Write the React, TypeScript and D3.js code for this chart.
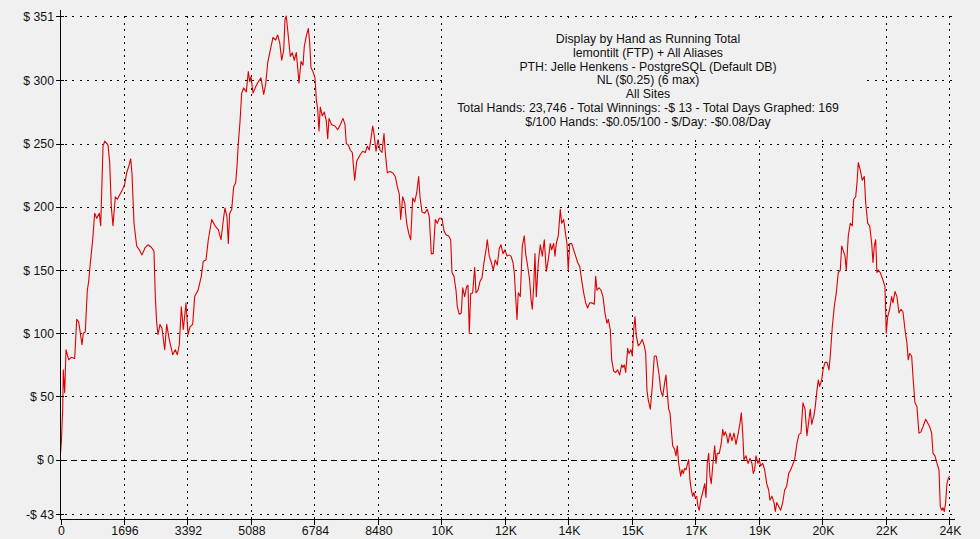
import React from 'react';
import * as d3 from 'd3';

// running total: [hand number, winnings in $]
const runningTotal: [number, number][] = [
  [0, 5], [21, 13], [59, 40], [75, 71], [112, 53], [147, 87], [219, 79], [288, 81], [379, 80], [433, 111],
  [486, 109], [574, 91], [609, 100], [662, 101], [716, 134], [753, 141], [788, 153], [860, 174], [913, 195],
  [967, 191], [1036, 195], [1074, 185], [1108, 219], [1135, 248], [1181, 252], [1269, 249], [1314, 235],
  [1357, 200], [1402, 185], [1464, 208], [1517, 206], [1589, 210], [1661, 214], [1715, 218], [1768, 227],
  [1822, 232], [1875, 238], [1910, 226], [1963, 187], [2035, 169], [2105, 166], [2177, 162], [2265, 168],
  [2337, 170], [2425, 168], [2497, 165], [2532, 129], [2570, 108], [2604, 99], [2658, 107], [2711, 104],
  [2783, 87], [2837, 107], [2906, 95], [2997, 83], [3066, 87], [3120, 83], [3173, 91], [3227, 121],
  [3280, 103], [3352, 124], [3406, 99], [3459, 105], [3531, 107], [3584, 129], [3673, 134], [3761, 145],
  [3814, 157], [3886, 158], [3948, 174], [4039, 190], [4127, 185], [4215, 182], [4287, 174], [4359, 192],
  [4394, 199], [4447, 192], [4482, 171], [4519, 195], [4573, 198], [4626, 216], [4680, 219], [4714, 232],
  [4749, 250], [4794, 267], [4840, 290], [4893, 294], [4963, 291], [5016, 307], [5054, 299], [5088, 303],
  [5142, 290], [5214, 295], [5283, 299], [5355, 302], [5427, 289], [5481, 297], [5534, 314], [5604, 324],
  [5676, 334], [5748, 332], [5801, 336], [5855, 330], [5908, 316], [5962, 324], [5996, 348], [6031, 351],
  [6085, 335], [6138, 319], [6191, 322], [6245, 316], [6298, 322], [6336, 310], [6370, 298], [6424, 315],
  [6477, 312], [6512, 327], [6565, 335], [6619, 341], [6656, 330], [6691, 310], [6744, 307], [6798, 302],
  [6833, 285], [6870, 277], [6905, 260], [6939, 279], [6993, 272], [7046, 275], [7100, 268], [7137, 254],
  [7172, 270], [7244, 265], [7332, 264], [7404, 261], [7473, 265], [7546, 270], [7599, 265], [7634, 250],
  [7687, 249], [7741, 245], [7794, 243], [7858, 221], [7912, 236], [8000, 241], [8072, 244], [8141, 243],
  [8195, 248], [8248, 245], [8301, 256], [8339, 264], [8374, 258], [8427, 244], [8480, 253], [8534, 245],
  [8587, 243], [8641, 258], [8675, 243], [8729, 227], [8801, 228], [8873, 227], [8943, 224], [8996, 216],
  [9049, 210], [9087, 190], [9140, 208], [9194, 203], [9247, 187], [9301, 179], [9354, 174], [9407, 207],
  [9461, 204], [9514, 211], [9567, 224], [9602, 208], [9656, 196], [9728, 195], [9797, 198], [9851, 192],
  [9904, 163], [9957, 163], [10011, 190], [10064, 187], [10118, 191], [10190, 191], [10243, 181],
  [10297, 178], [10369, 177], [10422, 174], [10457, 148], [10510, 145], [10564, 134], [10599, 121],
  [10652, 115], [10705, 116], [10743, 136], [10796, 129], [10850, 137], [10884, 138], [10919, 100],
  [10956, 131], [11010, 132], [11063, 152], [11098, 132], [11152, 134], [11205, 141], [11258, 144],
  [11312, 156], [11365, 166], [11400, 174], [11453, 161], [11507, 156], [11560, 150], [11613, 158],
  [11667, 154], [11720, 167], [11766, 170], [11819, 163], [11873, 166], [11926, 161], [11980, 162],
  [12033, 161], [12086, 156], [12121, 148], [12158, 129], [12193, 111], [12228, 132], [12281, 129],
  [12335, 169], [12388, 177], [12425, 163], [12479, 153], [12532, 142], [12567, 127], [12602, 119],
  [12639, 137], [12674, 163], [12709, 129], [12762, 156], [12816, 170], [12869, 161], [12923, 174],
  [12976, 149], [13029, 158], [13083, 171], [13120, 166], [13173, 171], [13208, 161], [13243, 171],
  [13296, 177], [13350, 198], [13387, 187], [13440, 190], [13475, 182], [13528, 171], [13563, 150],
  [13601, 171], [13654, 171], [13707, 166], [13761, 161], [13814, 156], [13868, 153], [13921, 142],
  [13975, 132], [14028, 124], [14081, 120], [14135, 124], [14204, 124], [14258, 123], [14295, 145],
  [14330, 134], [14383, 136], [14437, 134], [14490, 129], [14543, 116], [14597, 108], [14632, 111],
  [14685, 103], [14723, 79], [14776, 70], [14829, 69], [14883, 71], [14936, 67], [14990, 75], [15024, 73],
  [15059, 75], [15097, 69], [15150, 88], [15185, 84], [15238, 87], [15273, 82], [15310, 103], [15345, 113],
  [15380, 98], [15433, 90], [15487, 92], [15540, 95], [15593, 90], [15631, 84], [15665, 55], [15700, 47],
  [15754, 40], [15807, 58], [15861, 82], [15914, 82], [15940, 77], [15994, 66], [16031, 55], [16085, 50],
  [16138, 61], [16173, 67], [16208, 53], [16245, 40], [16280, 37], [16315, 24], [16352, 11], [16405, 8],
  [16440, 3], [16475, 11], [16512, -3], [16566, -13], [16600, -8], [16635, -11], [16672, -7], [16707, -8],
  [16742, -4], [16779, 0], [16814, -16], [16849, -24], [16886, -29], [16921, -26], [16955, -30],
  [16993, -29], [17027, -37], [17062, -40], [17100, -32], [17153, -26], [17207, -19], [17241, -30],
  [17276, -3], [17313, 5], [17348, -13], [17383, -19], [17421, -5], [17474, 11], [17509, -3], [17543, 5],
  [17597, 5], [17650, 13], [17688, 24], [17722, 19], [17757, 22], [17795, 19], [17829, 13], [17883, 21],
  [17936, 15], [17990, 21], [18043, 12], [18097, 20], [18150, 29], [18185, 37], [18222, 21], [18256, 0],
  [18310, 3], [18363, -3], [18417, 1], [18470, -3], [18505, -11], [18542, -8], [18577, 3], [18630, -3],
  [18665, 0], [18702, -5], [18756, -3], [18809, -8], [18863, -19], [18916, -24], [18951, -32], [19005, -29],
  [19058, -34], [19093, -41], [19131, -34], [19184, -37], [19237, -40], [19290, -34], [19343, -24],
  [19397, -21], [19450, -11], [19504, -8], [19557, -4], [19610, 0], [19672, 13], [19725, 20], [19779, 21],
  [19832, 45], [19886, 40], [19939, 19], [19993, 32], [20027, 40], [20065, 28], [20118, 34], [20153, 40],
  [20206, 55], [20241, 63], [20278, 58], [20332, 63], [20367, 71], [20420, 77], [20474, 77], [20527, 71],
  [20561, 82], [20615, 105], [20668, 121], [20722, 132], [20775, 148], [20829, 150], [20866, 169],
  [20901, 166], [20955, 161], [20989, 150], [21042, 177], [21096, 187], [21149, 185], [21187, 206],
  [21240, 208], [21275, 219], [21310, 235], [21363, 229], [21416, 221], [21470, 224], [21508, 203],
  [21561, 187], [21614, 185], [21668, 171], [21702, 156], [21737, 169], [21774, 174], [21808, 148],
  [21843, 150], [21897, 148], [21969, 142], [22022, 137], [22057, 100], [22094, 113], [22148, 119],
  [22201, 129], [22236, 124], [22289, 133], [22343, 129], [22396, 116], [22449, 119], [22503, 117],
  [22556, 103], [22610, 92], [22644, 79], [22682, 84], [22735, 82], [22770, 66], [22823, 45], [22876, 42],
  [22930, 21], [22984, 22], [23037, 26], [23110, 32], [23163, 29], [23217, 26], [23270, 21], [23305, 5],
  [23358, 3], [23412, -3], [23465, -8], [23500, -37], [23537, -40], [23572, -38], [23607, -41],
  [23643, -34], [23677, -19], [23712, -15], [23746, -13],
];

const totalHands = 23746;
const yTicks = [351, 300, 250, 200, 150, 100, 50, 0, -43];
const xTickValues = d3.range(0, 15).map(i => i * 1696);
const xTickLabels = ['0', '1696', '3392', '5088', '6784', '8480', '10K', '12K', '14K', '15K', '17K', '19K', '20K', '22K', '24K'];
const titleLines = [
  'Display by Hand as Running Total',
  'lemontilt (FTP) + All Aliases',
  'PTH: Jelle Henkens - PostgreSQL (Default DB)',
  'NL ($0.25) (6 max)',
  'All Sites',
  'Total Hands: 23,746 - Total Winnings: -$ 13 - Total Days Graphed: 169',
  '$/100 Hands: -$0.05/100 - $/Day: -$0.08/Day',
];

const W = 980;
const H = 539;
const left = 60.5;
const right = 955;
const axisY = 519.5;

const fmtDollar = (v: number) => (v < 0 ? `-$ ${-v}` : `$ ${v}`);

export default function App() {
  const x = d3.scaleLinear().domain([0, totalHands]).range([left, 949.5]);
  const y = d3.scaleLinear().domain([-43, 351]).range([514, 16]);

  const line = d3.line<[number, number]>()
    .x(d => x(d[0]))
    .y(d => y(d[1]));

  const font = "'Liberation Sans', Arial, sans-serif";

  return (
    <svg width={W} height={H} style={{ position: 'fixed', left: 0, top: 0 }} fontFamily={font}>
      <rect width={W} height={H} fill="#f0f0f0" />

      {/* grid */}
      <g stroke="#000" strokeWidth={1} shapeRendering="crispEdges">
        {xTickValues.slice(1).map(v => (
          <line key={'gx' + v} x1={Math.round(x(v)) + 0.5} x2={Math.round(x(v)) + 0.5} y1={16} y2={axisY}
            strokeDasharray="2,4.5" />
        ))}
        {yTicks.map(v => (
          <line key={'gy' + v} x1={left} x2={right} y1={Math.round(y(v)) + 0.5} y2={Math.round(y(v)) + 0.5}
            strokeDasharray={v === 0 ? '6,4' : '2,5.5'} strokeDashoffset={v === 0 ? 0 : -4} />
        ))}
      </g>

      {/* title block hides grid behind it */}
      <rect x={445} y={20} width={420} height={117} fill="#f0f0f0" />
      <g fontSize={12.3} textAnchor="middle" fill="#111">
        {titleLines.map((t, i) => (
          <text key={i} x={648} y={43 + i * 13.8}>{t}</text>
        ))}
      </g>

      {/* running total */}
      <path d={line(runningTotal) || ''} fill="none" stroke="#dc0000" strokeWidth={1.1} strokeLinejoin="round" />

      {/* axes */}
      <g stroke="#000" shapeRendering="crispEdges">
        <line x1={left} x2={left} y1={10} y2={axisY} strokeWidth={1.5} />
        <line x1={left} x2={right} y1={axisY} y2={axisY} strokeWidth={1.5} />
        {yTicks.map(v => (
          <line key={'ty' + v} x1={56} x2={64} y1={Math.round(y(v)) + 0.5} y2={Math.round(y(v)) + 0.5} />
        ))}
        {xTickValues.map(v => (
          <line key={'tx' + v} x1={Math.round(x(v)) + 0.5} x2={Math.round(x(v)) + 0.5} y1={axisY} y2={axisY + 5} />
        ))}
      </g>
      <g fontSize={12.3} fill="#111">
        {yTicks.map(v => (
          <text key={'ly' + v} x={54} y={y(v) + 4.5} textAnchor="end">{fmtDollar(v)}</text>
        ))}
        {xTickValues.map((v, i) => (
          <text key={'lx' + v} x={x(v) + 1} y={535} textAnchor="middle">{xTickLabels[i]}</text>
        ))}
      </g>
    </svg>
  );
}
